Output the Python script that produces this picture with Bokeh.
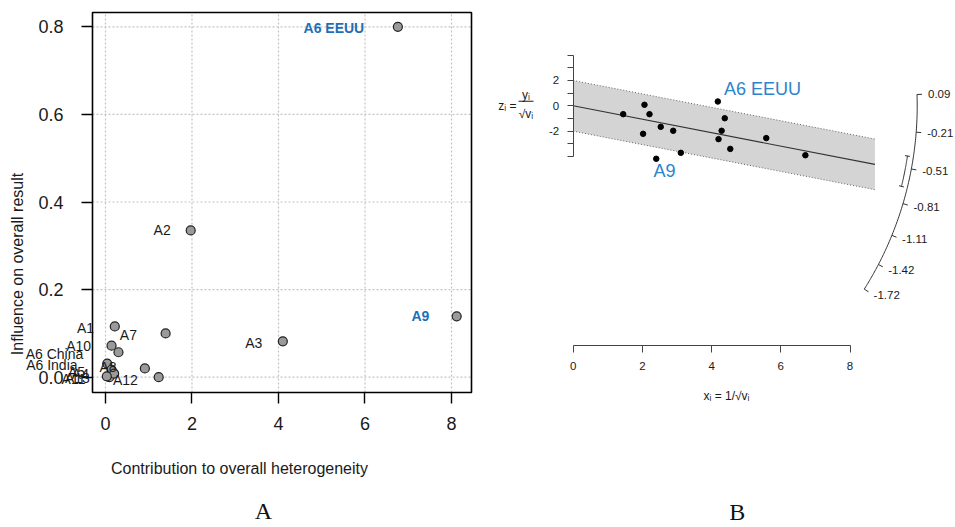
import numpy as np
from bokeh.plotting import figure
from bokeh.models import ColumnDataSource, LabelSet, Label, FixedTicker, PrintfTickFormatter, LinearAxis
from bokeh.layouts import row
from bokeh.embed import file_html
from bokeh.resources import INLINE
from bokeh.core.properties import value

# ---------------- Panel A: Baujat plot data ----------------
baujat_contrib = [6.76, 1.97, 8.12, 4.10, 0.215, 1.39, 0.14, 0.30, 0.04, 0.09, 0.91, 1.23, 0.14, 0.20, 0.03]
baujat_influence = [0.800, 0.335, 0.139, 0.082, 0.116, 0.100, 0.072, 0.057, 0.031, 0.000, 0.020, 0.000, 0.017, 0.008, 0.002]

label_text = ["A2", "A3", "A1", "A7", "A10", "A6 China", "A6 India", "A5", "A4", "A11", "A13", "A8", "A12"]
label_x = [1.31, 3.43, -0.46, 0.53, -0.62, -1.18, -1.24, -0.67, -0.58, -0.74, -0.65, 0.06, 0.46]
label_y = [0.335, 0.079, 0.113, 0.097, 0.072, 0.053, 0.028, 0.011, 0.008, -0.004, -0.002, 0.023, -0.006]

hl_text = ["A6 EEUU", "A9"]
hl_x = [5.28, 7.28]
hl_y = [0.798, 0.139]

a_xticks = [0, 2, 4, 6, 8]
a_yticks = [0.0, 0.2, 0.4, 0.6, 0.8]
a_xlim = (-0.3006, 8.4624)   # plot region (box) limits
a_ylim = (-0.0349, 0.8326)

# ---------------- Panel B: radial (Galbraith) plot data ----------------
radial_x = [1.445, 2.06, 2.205, 2.02, 2.53, 2.89, 3.11, 2.40, 4.18, 4.38, 4.29, 4.20, 4.54, 5.58, 6.71]
radial_z = [-0.66, 0.08, -0.66, -2.21, -1.66, -1.97, -3.71, -4.18, 0.34, -0.98, -1.97, -2.63, -3.40, -2.55, -3.90]
radial_lab = ["A6 EEUU", "A9"]
radial_lab_x = [5.47, 2.64]
radial_lab_z = [1.34, -5.11]

pooled = -0.53
pooled_ci = (-0.41, -0.67)
band_x_end = 8.72
arc_ticks = [0.09, -0.21, -0.51, -0.81, -1.11, -1.42, -1.72]
b_xticks = [0, 2, 4, 6, 8]
b_yticks = [-4, -3, -2, -1, 0, 1, 2, 3, 4]
b_ylabels = {-2: "-2", 0: "0", 2: "2"}
b_xaxis_at = -18.92

FONT = "Liberation Sans"
BLUE_A = "#1c6fb6"
BLUE_B = "#2b84cc"
INK = "#1a1a1a"

# ================= Figure A =================
A_W, A_H = 478, 527
pA = figure(width=A_W, height=A_H, x_range=(-2.4277, 8.6243), y_range=(-0.34315, 0.86005),
            output_backend="svg", toolbar_location=None, title=None,
            x_axis_location=None, y_axis_location=None, min_border=0,
            background_fill_color="white", border_fill_color="white")
pA.outline_line_color = None
pA.grid.visible = False

# grid lines inside the box
pA.segment(x0=a_xticks, y0=[a_ylim[0]] * len(a_xticks), x1=a_xticks, y1=[a_ylim[1]] * len(a_xticks),
           line_color="#c4c4c4", line_dash="2 2", line_width=1.2)
pA.segment(x0=[a_xlim[0]] * len(a_yticks), y0=a_yticks, x1=[a_xlim[1]] * len(a_yticks), y1=a_yticks,
           line_color="#c4c4c4", line_dash="2 2", line_width=1.2)
# box
pA.quad(left=[a_xlim[0]], right=[a_xlim[1]], bottom=[a_ylim[0]], top=[a_ylim[1]],
        fill_color=None, line_color="black", line_width=1.6)

axAx = LinearAxis(fixed_location=a_ylim[0], ticker=FixedTicker(ticks=a_xticks),
                  axis_label="Contribution to overall heterogeneity")
axAy = LinearAxis(fixed_location=a_xlim[0], ticker=FixedTicker(ticks=a_yticks),
                  formatter=PrintfTickFormatter(format="%.1f"),
                  axis_label="Influence on overall result")
for ax in (axAx, axAy):
    ax.axis_line_color = None
    ax.major_tick_in = 0
    ax.major_tick_out = 11
    ax.minor_tick_out = 0
    ax.minor_tick_in = 0
    ax.major_tick_line_color = "black"
    ax.major_tick_line_width = 1.4
    ax.major_label_text_font = FONT
    ax.major_label_text_font_size = "18px"
    ax.major_label_text_color = INK
    ax.axis_label_text_font = FONT
    ax.axis_label_text_font_size = "16px"
    ax.axis_label_text_font_style = "normal"
    ax.axis_label_text_color = INK
axAx.major_label_standoff = 14
axAy.major_label_standoff = 18
axAx.axis_label_standoff = 26
axAy.axis_label_standoff = 9
pA.add_layout(axAx, "below")
pA.add_layout(axAy, "left")

pA.scatter(baujat_contrib, baujat_influence, size=9, fill_color="#9a9a9a",
           line_color="#222222", line_width=1.2)

srcA = ColumnDataSource(dict(x=label_x, y=label_y, t=label_text))
pA.add_layout(LabelSet(x="x", y="y", text="t", source=srcA, text_align="center",
                       text_baseline="middle", text_font=value(FONT), text_font_size="14px",
                       text_color=INK))
srcH = ColumnDataSource(dict(x=hl_x, y=hl_y, t=hl_text))
pA.add_layout(LabelSet(x="x", y="y", text="t", source=srcH, text_align="center",
                       text_baseline="middle", text_font=value(FONT), text_font_size="14px",
                       text_font_style="bold", text_color=BLUE_A))
pA.add_layout(Label(x=3.65, y=-0.3066, text="A", text_align="center", text_baseline="middle",
                    text_font="Liberation Serif", text_font_size="24px", text_color="#111111"))

# ================= Figure B =================
B_W, B_H = 477, 527
bx0, bx1 = -2.737, 11.049
bz0, bz1 = -33.28, 8.311
pB = figure(width=B_W, height=B_H, x_range=(bx0, bx1), y_range=(bz0, bz1),
            output_backend="svg", toolbar_location=None, title=None,
            x_axis_location=None, y_axis_location=None, min_border=0,
            background_fill_color="white", border_fill_color="white")
pB.outline_line_color = None
pB.grid.visible = False

sx = B_W / (bx1 - bx0)   # px per x unit
sz = B_H / (bz1 - bz0)   # px per z unit

# band
bx = [0, band_x_end, band_x_end, 0]
bz = [2, 2 + pooled * band_x_end, -2 + pooled * band_x_end, -2]
pB.patch(bx, bz, fill_color="#d4d4d4", line_color=None)
pB.line([0, band_x_end], [2, 2 + pooled * band_x_end], line_color="#666666", line_dash="1 2", line_width=1)
pB.line([0, band_x_end], [-2, -2 + pooled * band_x_end], line_color="#666666", line_dash="1 2", line_width=1)
pB.line([0, band_x_end], [0, pooled * band_x_end], line_color="#333333", line_width=1.1)

pB.scatter(radial_x, radial_z, size=5.5, fill_color="black", line_color="black")

axBx = LinearAxis(fixed_location=b_xaxis_at, ticker=FixedTicker(ticks=b_xticks), bounds=(0, 8))
axBy = LinearAxis(fixed_location=0, ticker=FixedTicker(ticks=b_yticks), bounds=(-4, 4))
axBy.major_label_overrides = {t: b_ylabels.get(t, "") for t in b_yticks}
for ax in (axBx, axBy):
    ax.axis_line_color = "#444444"
    ax.axis_line_width = 1
    ax.major_tick_in = 0
    ax.major_tick_out = 6
    ax.minor_tick_out = 0
    ax.minor_tick_in = 0
    ax.major_tick_line_color = "#444444"
    ax.major_tick_line_width = 1
    ax.major_label_text_font = FONT
    ax.major_label_text_font_size = "11.5px"
    ax.major_label_text_color = INK
axBx.major_tick_out = 7
axBx.major_label_standoff = 9
axBy.major_label_standoff = 8
pB.add_layout(axBx, "below")
pB.add_layout(axBy, "left")

srcRB = ColumnDataSource(dict(x=radial_lab_x, y=radial_lab_z, t=radial_lab))
pB.add_layout(LabelSet(x="x", y="y", text="t", source=srcRB, text_align="center",
                       text_baseline="middle", text_font=value(FONT), text_font_size="18px",
                       text_color=BLUE_B))

# arc scale
def arc_pt(theta, r_px):
    phi = np.arctan(np.asarray(theta, dtype=float) * sz / sx)
    return r_px * np.cos(phi) / sx, r_px * np.sin(phi) / sz

R_ARC = 344
th = np.linspace(max(arc_ticks), min(arc_ticks), 120)
ax_, az_ = arc_pt(th, R_ARC)
pB.line(ax_, az_, line_color="#333333", line_width=1)
t0x, t0z = arc_pt(arc_ticks, R_ARC)
t1x, t1z = arc_pt(arc_ticks, R_ARC + 5)
pB.segment(t0x, t0z, t1x, t1z, line_color="#333333", line_width=1)
lx, lz = arc_pt(arc_ticks, R_ARC + 11)
srcArc = ColumnDataSource(dict(x=lx, y=lz, t=[f"{v:.2f}" for v in arc_ticks]))
pB.add_layout(LabelSet(x="x", y="y", text="t", source=srcArc, text_align="left",
                       text_baseline="middle", text_font=value(FONT), text_font_size="11.5px",
                       text_color=INK))

# pooled CI bracket
R_CI = 338
thc = np.linspace(pooled_ci[0], pooled_ci[1], 30)
cx, cz = arc_pt(thc, R_CI)
pB.line(cx, cz, line_color="#333333", line_width=1)
c0x, c0z = arc_pt(list(pooled_ci), R_CI - 2.5)
c1x, c1z = arc_pt(list(pooled_ci), R_CI + 2.5)
pB.segment(c0x, c0z, c1x, c1z, line_color="#333333", line_width=1)

# axis titles for B
pB.add_layout(Label(x=4.43, y=-22.87, text="xᵢ = 1/√vᵢ", text_align="center", text_baseline="middle",
                    text_font=FONT, text_font_size="12px", text_color=INK))
pB.add_layout(Label(x=-1.64, y=0.0, text="zᵢ =", text_align="right", text_baseline="middle",
                    text_font=FONT, text_font_size="12px", text_color=INK))
pB.add_layout(Label(x=-1.364, y=0.89, text="yᵢ", text_align="center", text_baseline="middle",
                    text_font=FONT, text_font_size="12px", text_color=INK))
pB.add_layout(Label(x=-1.364, y=-0.61, text="√vᵢ", text_align="center", text_baseline="middle",
                    text_font=FONT, text_font_size="12px", text_color=INK))
pB.segment(x0=[-1.58], y0=[0.36], x1=[-1.147], y1=[0.36], line_color=INK, line_width=1)
pB.add_layout(Label(x=4.74, y=-32.02, text="B", text_align="center", text_baseline="middle",
                    text_font="Liberation Serif", text_font_size="24px", text_color="#111111"))

layout = row(pA, pB)
open("out.html", "w").write(file_html(layout, INLINE))
